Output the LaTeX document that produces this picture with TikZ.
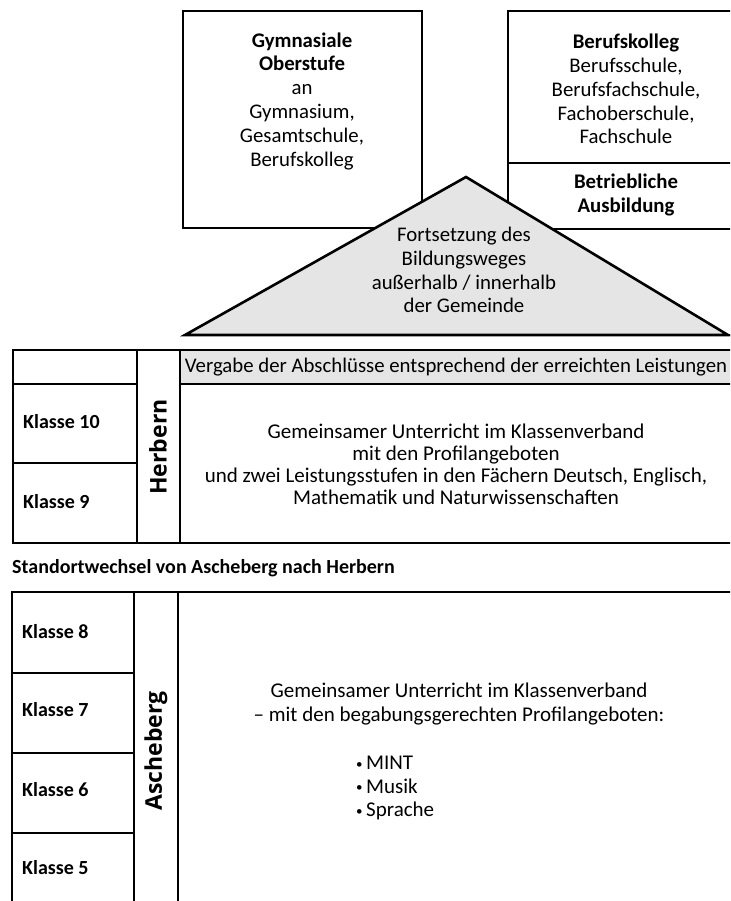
\documentclass[tikz,border=0pt]{standalone}
\usepackage{fontspec}
\setmainfont{Carlito}
\newfontfamily\ortfont{Open Sans}
\newcommand{\punkt}{\raisebox{1.5pt}{\fontsize{13}{13}\selectfont•}\,}

\begin{document}
\begin{tikzpicture}[x=1pt,y=-1pt,
    frame/.style={draw,line width=1.7pt},
    speckle/.style={fill=black!10},
    txt/.style={font=\fontsize{20.8}{23.8}\selectfont,align=center,inner sep=0pt},
    body/.style={font=\fontsize{21}{22}\selectfont,align=center,inner sep=0pt},
    klasse/.style={font=\fontsize{20}{24}\selectfont\bfseries,anchor=west,inner sep=0pt},
    ort/.style={font=\ortfont\fontsize{23}{26}\selectfont\bfseries,rotate=90,inner sep=0pt}]

        \useasboundingbox (0,0) rectangle (730,901);
        \clip (0,0) rectangle (730,901);

        % oberer Teil: Schulen nach Klasse 10
        \draw[frame] (183,11) rectangle (422,228);
        \draw[frame] (770,11) -| (508,229) -- (770,229);
        \draw[frame] (508,163) -- (770,163);

        \node[txt] (gym) at (302,101) {\textbf{Gymnasiale}\\\textbf{Oberstufe}\\an\\Gymnasium,\\Gesamtschule,\\Berufskolleg};
        \node[txt] (bk)  at (626,89)  {\textbf{Berufskolleg}\\Berufsschule,\\Berufsfachschule,\\Fachoberschule,\\Fachschule};
        \node[txt] (aus) at (626,195) {\textbf{Betriebliche}\\\textbf{Ausbildung}};

        % Dreieck
        \draw[speckle,line width=2.6pt,line join=miter] (185,335) -- (466,177) -- (728,335) -- cycle;
        \draw[line width=2.2pt] (185,335) -- (770,335);
        \node[txt] (weg) at (464,270) {Fortsetzung des\\Bildungsweges\\außerhalb / innerhalb\\der Gemeinde};

        % Herbern (Klasse 9 und 10)
        \fill[speckle] (180,350) rectangle (770,384);
        \draw[frame] (770,350) -| (13,543) -- (770,543);
        \draw[frame] (137,350) -- (137,543);
        \draw[frame] (180,350) -- (180,543);
        \draw[frame] (13,384) -- (137,384);
        \draw[frame] (180,384) -- (770,384);
        \draw[frame] (13,463) -- (137,463);

        \node[txt] (verg) at (456,367) {Vergabe der Abschlüsse entsprechend der erreichten Leistungen};
        \node[klasse] (k10) at (23,422) {Klasse 10};
        \node[klasse] (k9)  at (23,502) {Klasse 9};
        \node[ort] (herb) at (158,447) {Herbern};
        \node[body] (oben) at (456,464) {Gemeinsamer Unterricht im Klassenverband\\mit den Profilangeboten\\und zwei Leistungsstufen in den Fächern Deutsch, Englisch,\\Mathematik und Naturwissenschaften};

        \node[klasse] (wech) at (12,568) {Standortwechsel von Ascheberg nach Herbern};

        % Ascheberg (Klasse 5 bis 8)
        \draw[frame] (770,592) -| (12,910);
        \draw[frame] (134,592) -- (134,910);
        \draw[frame] (178,592) -- (178,910);
        \draw[frame] (12,673) -- (134,673);
        \draw[frame] (12,753) -- (134,753);
        \draw[frame] (12,833) -- (134,833);

        \node[klasse] (k8) at (22,632) {Klasse 8};
        \node[klasse] (k7) at (22,710) {Klasse 7};
        \node[klasse] (k6) at (22,790) {Klasse 6};
        \node[klasse] (k5) at (22,868) {Klasse 5};
        \node[ort] (asch) at (156,751) {Ascheberg};
        \node[body] (unten) at (459,704) {Gemeinsamer Unterricht im Klassenverband\\[2pt]– mit den begabungsgerechten Profilangeboten:};
        \node[body,align=left,anchor=north west] (prof) at (356,756) {\punkt MINT\\[1.5pt]\punkt Musik\\[1.5pt]\punkt Sprache};

\end{tikzpicture}
\end{document}
